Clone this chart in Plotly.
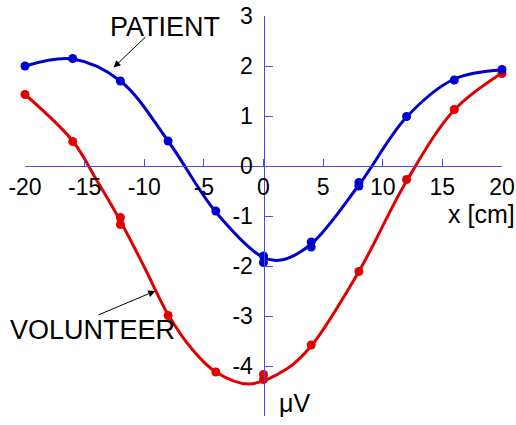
import plotly.graph_objects as go

# Measured potentials (x in cm, amplitude in microvolts)
patient_x = [-20, -16, -12, -8, -4, 0, 0, 4, 4, 8, 8, 12, 16, 20]
patient_y = [2.0, 2.15, 1.70, 0.50, -0.90, -1.80, -1.93, -1.52, -1.62, -0.33, -0.40, 0.99, 1.72, 1.93]

volunteer_x = [-20, -16, -12, -12, -8, -4, 0, 0, 4, 8, 12, 16, 20]
volunteer_y = [1.43, 0.49, -1.03, -1.17, -2.99, -4.12, -4.17, -4.27, -3.58, -2.11, -0.27, 1.13, 1.85]

# Fitted curves, sampled at knots
patient_fit_x = [-20, -16, -12, -8, -4, 0, 1.5, 4, 8, 12, 16, 20]
patient_fit_y = [2.0, 2.14, 1.70, 0.50, -0.92, -1.83, -1.88, -1.56, -0.38, 0.98, 1.74, 1.92]

volunteer_fit_x = [-20, -16, -14, -12, -10, -8, -6, -4, -1.2, 2, 4, 8, 12, 16, 20]
volunteer_fit_y = [1.43, 0.50, -0.28, -1.10, -2.02, -2.97, -3.66, -4.12, -4.36, -4.05, -3.60, -2.11, -0.30, 1.12, 1.86]

x_ticks = [-20, -15, -10, -5, 0, 5, 10, 15, 20]
y_ticks = [-5, -4, -3, -2, -1, 0, 1, 2, 3]

BLUE = "#0000cc"
RED = "#e00000"
AXIS = "#4a4aee"
FONT = "Arial, Liberation Sans, sans-serif"

fig = go.Figure()

for fx, fy, px, py, col in [
    (volunteer_fit_x, volunteer_fit_y, volunteer_x, volunteer_y, RED),
    (patient_fit_x, patient_fit_y, patient_x, patient_y, BLUE),
]:
    fig.add_trace(go.Scatter(x=fx, y=fy, mode="lines",
                             line=dict(color=col, width=3, shape="spline", smoothing=1.0),
                             hoverinfo="skip", showlegend=False, cliponaxis=False))
    fig.add_trace(go.Scatter(x=px, y=py, mode="markers",
                             marker=dict(color=col, size=9),
                             showlegend=False, cliponaxis=False))

fig.update_layout(
    width=516, height=425,
    margin=dict(l=25, r=14, t=16, b=9),
    paper_bgcolor="white", plot_bgcolor="white",
    font=dict(family=FONT, color="black"),
    xaxis=dict(range=[-20, 20], anchor="free", position=0.625, automargin=False,
               tickvals=x_ticks, ticktext=[str(v) for v in x_ticks],
               ticks="inside", ticklen=7, tickcolor=AXIS, tickwidth=1,
               showline=True, linecolor=AXIS, linewidth=1,
               showgrid=False, zeroline=False,
               tickfont=dict(size=23, family=FONT, color="black")),
    yaxis=dict(range=[-5, 3], anchor="free", position=0.5, automargin=False,
               tickvals=y_ticks, ticktext=[str(v) for v in y_ticks],
               ticks="inside", ticklen=8, tickcolor=AXIS, tickwidth=1,
               ticklabelstandoff=6,
               showline=True, linecolor=AXIS, linewidth=1,
               showgrid=False, zeroline=False,
               tickfont=dict(size=23, family=FONT, color="black")),
)

axis_font = dict(size=25, family=FONT, color="black")
label_font = dict(size=27, family=FONT, color="black")
fig.add_annotation(x=15.3, y=-0.95, text="x [cm]", showarrow=False,
                   xanchor="left", yanchor="middle", font=axis_font)
fig.add_annotation(x=1.1, y=-4.73, text="μV", showarrow=False,
                   xanchor="left", yanchor="middle", font=axis_font)
fig.add_annotation(x=-8.3, y=2.79, text="PATIENT", showarrow=False,
                   xanchor="center", yanchor="middle", font=label_font)
fig.add_annotation(x=-14.38, y=-3.27, text="VOLUNTEER", showarrow=False,
                   xanchor="center", yanchor="middle", font=label_font)

# Leader arrows pointing at each curve
for hx, hy, tx, ty in [(-12.57, 1.97, -9.77, 2.61), (-9.08, -2.5, -13.96, -2.99)]:
    fig.add_annotation(x=hx, y=hy, ax=tx, ay=ty, axref="x", ayref="y",
                       text="", showarrow=True, arrowhead=2, arrowsize=1.4,
                       arrowwidth=1, arrowcolor="black")

fig.write_html("out.html")
